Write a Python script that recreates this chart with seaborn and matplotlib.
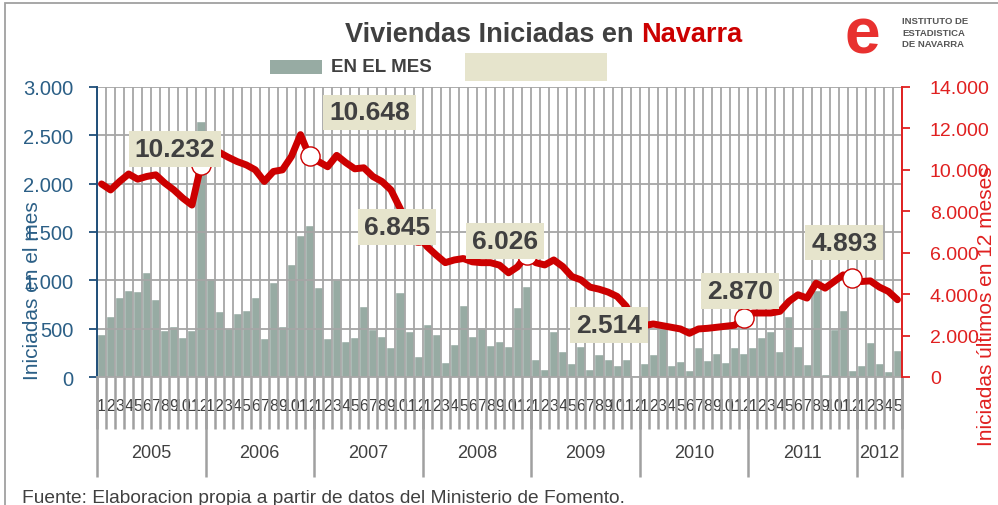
import numpy as np
import pandas as pd
import matplotlib
matplotlib.use('Agg')
import matplotlib.pyplot as plt
import matplotlib.transforms as mtransforms
from matplotlib.patches import Rectangle
from matplotlib.ticker import FuncFormatter
import seaborn as sns

# Datos (ene 2005 - may 2012)
anios = [2005, 2006, 2007, 2008, 2009, 2010, 2011, 2012]
meses_por_anio = [12, 12, 12, 12, 12, 12, 12, 5]

# viviendas iniciadas en el mes
iniciadas_mes = [
    442, 629, 829, 905, 885, 1085, 802, 484, 525, 415, 484, 2644,
    1026, 684, 505, 667, 698, 829, 401, 981, 532, 1165, 1469, 1572,
    933, 404, 1013, 370, 415, 733, 501, 425, 311, 881, 477, 214,
    546, 442, 156, 346, 743, 425, 518, 335, 373, 321, 720, 940,
    190, 86, 477, 266, 145, 321, 86, 242, 187, 121, 187, 24,
    145, 242, 508, 121, 162, 69, 311, 180, 252, 155, 311, 252,
    311, 415, 477, 270, 629, 321, 131, 899, 28, 501, 698, 69,
    121, 363, 149, 59, 283,
]

# iniciadas ultimos 12 meses
iniciadas_12m = [
    9320, 9030, 9440, 9800, 9550, 9680, 9760, 9360, 9030, 8630, 8300, 10230,
    10800, 10850, 10610, 10400, 10240, 10000, 9440, 9920, 10000, 10650, 11700, 10650,
    10400, 10150, 10700, 10350, 10050, 10100, 9680, 9440, 9030, 8150, 7260, 6850,
    6290, 5890, 5520, 5650, 5720, 5560, 5520, 5520, 5400, 5030, 5320, 5900,
    5520, 5410, 5650, 5330, 4850, 4690, 4340, 4240, 4100, 3890, 3420, 2600,
    2480, 2560, 2480, 2400, 2320, 2110, 2320, 2350, 2400, 2450, 2500, 2850,
    3090, 3090, 3090, 3170, 3650, 3970, 3810, 4530, 4290, 4610, 4930, 4800,
    4610, 4640, 4340, 4130, 3730,
]

# etiquetas de diciembre
etiquetas_dic = ['10.232', '10.648', '6.845', '6.026', '2.514', '2.870', '4.893']
# desplazamiento de cada etiqueta (pixeles)
desplaz_etiq = [(-26, 16), (60, 44), (-21, 8), (-22, 14), (-26, -2), (-4, 27), (-8, 35)]

n = len(iniciadas_mes)
etiq_mes = []
for k in meses_por_anio:
    etiq_mes += [str(i + 1) for i in range(k)]
df = pd.DataFrame({'idx': np.arange(n), 'mes': iniciadas_mes, 'acum': iniciadas_12m})
idx_dic = [11 + 12 * i for i in range(len(etiquetas_dic))]

sns.set_style('white')
plt.rcParams['font.family'] = ['Liberation Sans', 'DejaVu Sans']

W, H = 998, 506
fig = plt.figure(figsize=(W / 100, H / 100), dpi=100)
ax = fig.add_axes([97 / W, 1 - 378 / H, 805 / W, 290 / H])

GRIS = '#a6a6a6'
ROJO = '#cc0000'
AZUL = '#2b5f86'

sns.barplot(data=df, x='idx', y='mes', color='#97aba3', saturation=1, width=1.0,
            ax=ax, zorder=1)

# rejilla
ax.vlines(np.arange(-0.5, n), 0, 3000, colors=GRIS, lw=1.3, zorder=2)
ax.hlines(np.arange(500, 3001, 500), -0.5, n - 0.5, colors=GRIS, lw=1.3, zorder=2)

ax.set_xlim(-0.5, n - 0.5)
ax.set_ylim(0, 3000)
ax.set_yticks(np.arange(0, 3001, 500))
fmt = FuncFormatter(lambda v, p: f'{int(v):,}'.replace(',', '.'))
ax.yaxis.set_major_formatter(fmt)
ax.set_xticks(np.arange(n))
ax.set_xticklabels(etiq_mes)
ax.tick_params(axis='x', length=0, pad=15, labelsize=11.5, labelcolor='#404040')
ax.tick_params(axis='y', direction='out', length=6, width=1.3, color='#1f4e79',
               labelcolor=AZUL, labelsize=14.5, pad=11)
ax.set_xlabel('')
ax.set_ylabel('')
for s in ['top', 'right']:
    ax.spines[s].set_visible(False)
ax.spines['left'].set_color('#1f4e79')
ax.spines['left'].set_linewidth(1.4)
ax.spines['bottom'].set_color(GRIS)
ax.spines['bottom'].set_linewidth(1.3)

# separadores de meses y anios debajo del eje
trans = mtransforms.blended_transform_factory(ax.transData, ax.transAxes)
ax.vlines(np.arange(-0.5, n), -52 / 290, 0, transform=trans, clip_on=False,
          colors='#a0a0a0', lw=1.8)
limites = np.concatenate([[0], np.cumsum(meses_por_anio)]) - 0.5
ax.vlines(limites, -100 / 290, 0, transform=trans, clip_on=False,
          colors='#a0a0a0', lw=1.8)
for a, i0, i1 in zip(anios, limites[:-1], limites[1:]):
    ax.text((i0 + i1) / 2, -75 / 290, str(a), transform=trans, ha='center',
            va='center', fontsize=13, color='#404040')

# serie acumulada
ax2 = ax.twinx()
sns.lineplot(data=df, x='idx', y='acum', ax=ax2, color=ROJO, lw=5,
             solid_joinstyle='round', solid_capstyle='round', zorder=3)
dic_vals = [iniciadas_12m[i] for i in idx_dic]
ax2.scatter(idx_dic, dic_vals, s=190, color='white', edgecolor=ROJO,
            linewidth=1, zorder=4)
ax2.set_ylim(0, 14000)
ax2.set_yticks(np.arange(0, 14001, 2000))
ax2.yaxis.set_major_formatter(fmt)
ax2.set_xlim(-0.5, n - 0.5)
ax2.set_ylabel('')
ax2.set_xlabel('')
ax2.tick_params(axis='y', direction='out', length=6, width=1.3, color='#e02020',
                labelcolor='#e02020', labelsize=14, pad=14)
for s in ['top', 'left', 'bottom']:
    ax2.spines[s].set_visible(False)
ax2.spines['right'].set_color('#e02020')
ax2.spines['right'].set_linewidth(1.4)

for lab, i, v, (dx, dy) in zip(etiquetas_dic, idx_dic, dic_vals, desplaz_etiq):
    ax2.annotate(lab, xy=(i, v), xytext=(dx, dy), textcoords='offset pixels',
                 ha='center', va='center', fontsize=19, fontweight='bold',
                 color='#404040', zorder=10,
                 bbox=dict(boxstyle='square,pad=0.22', fc='#e6e4cc', ec='none'))

# titulos de ejes
fig.text(33 / W, 1 - 291 / H, 'Iniciadas en el mes', rotation=90, ha='center',
         va='center', fontsize=15, color=AZUL)
fig.text(986 / W, 1 - 306 / H, 'Iniciadas últimos en 12 meses', rotation=90,
         ha='center', va='center', fontsize=15, color='#e02020')

# titulo
t1 = fig.text(345 / W, 1 - 42 / H, 'Viviendas Iniciadas en ', fontsize=19.5,
              fontweight='bold', color='#404040', va='baseline')
ax.annotate('Navarra', xy=(1, 0), xycoords=t1, va='bottom', ha='left',
            fontsize=19.5, fontweight='bold', color=ROJO, annotation_clip=False)

# leyenda
fig.patches.append(Rectangle((270 / W, 1 - 75 / H), 52 / W, 14 / H, fc='#97aba3',
                             ec='none', transform=fig.transFigure))
fig.text(331 / W, 1 - 68 / H, 'EN EL MES', fontsize=13.5, fontweight='bold',
         color='#404040', va='center')
fig.patches.append(Rectangle((465 / W, 1 - 82 / H), 142 / W, 28 / H, fc='#e6e4cc',
                             ec='none', transform=fig.transFigure))

# logo
fig.text(862 / W, 1 - 36 / H, 'e', fontsize=46, fontweight='bold', color='#e8312f',
         ha='center', va='center')
fig.text(902 / W, 1 - 33 / H, 'INSTITUTO DE\nESTADISTICA\nDE NAVARRA', fontsize=6.8,
         fontweight='bold', color='#555555', va='center', linespacing=1.3)

# fuente
fig.text(22 / W, 1 - 503 / H,
         'Fuente: Elaboracion propia a partir de datos del Ministerio de Fomento.',
         fontsize=13.8, color='#404040', va='baseline')

# marco
fig.patches.append(Rectangle((5 / W, -0.1), 1.2, 1.1 - 4 / H, fill=False,
                             ec='#a0a0a0', lw=1.3, transform=fig.transFigure))

fig.savefig('out.png', dpi=100)
